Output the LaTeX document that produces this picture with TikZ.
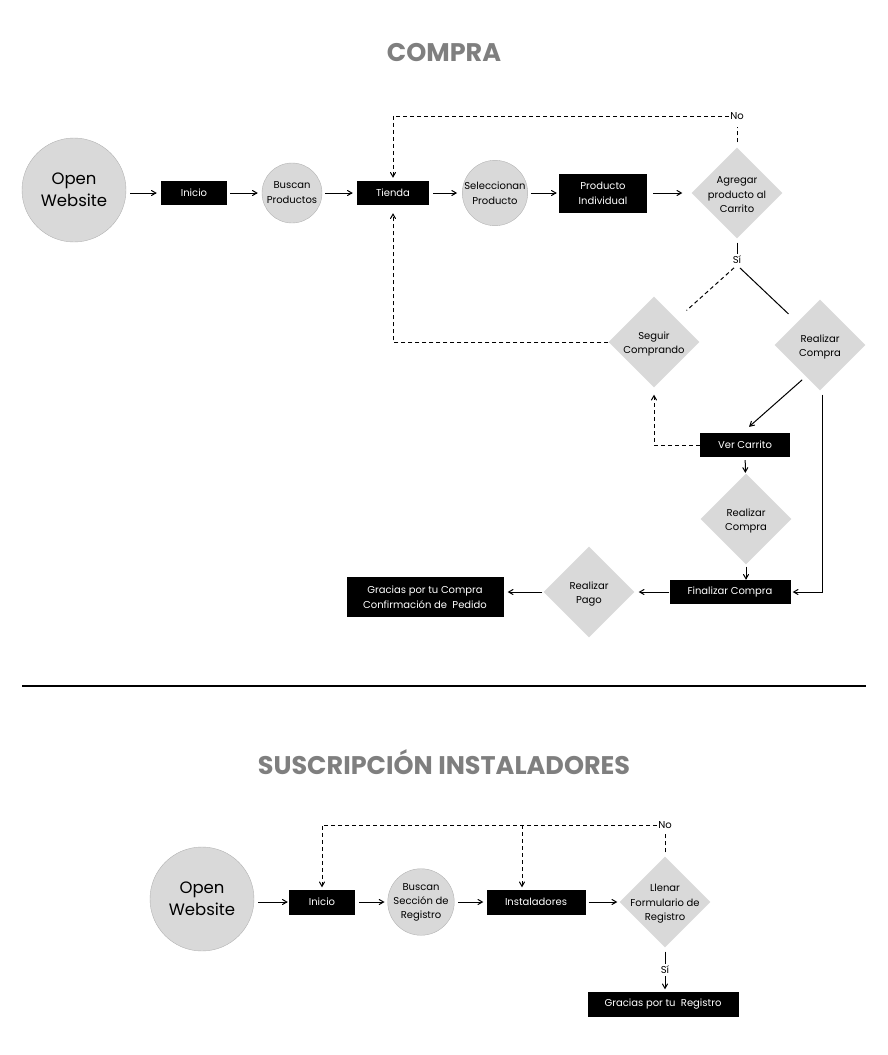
\documentclass[tikz,border=0pt]{standalone}
\usepackage{fontspec}
\setmainfont{Poppins}
\usepackage{tikz}
\usetikzlibrary{arrows,calc}
\usetikzlibrary{positioning,shapes}
\definecolor{gris}{HTML}{D9D9D9}
\definecolor{borde}{HTML}{B3B3B3}
\definecolor{grisTitulo}{HTML}{7F7F7F}
\tikzstyle{flecha}=[->, line width=1pt, shorten >=4pt, shorten <=4pt]
\tikzstyle{linea}=[-, line width=1pt]
\tikzstyle{punteado}=[line width=1pt, dash pattern=on 4pt off 3pt]
\tikzstyle{caja}=[rectangle, fill=black, text=white, inner sep=0pt,
  align=center, font=\fontsize{10}{15}\selectfont]
\tikzstyle{bola}=[circle, fill=gris, draw=borde, inner sep=0pt,
  minimum size=60pt, align=center, font=\fontsize{10}{15}\selectfont]
\tikzstyle{web}=[circle, fill=gris, draw=borde, inner sep=0pt,
  minimum size=104pt, align=center, font=\fontsize{16.5}{22}\selectfont]
\tikzstyle{rombo}=[diamond, fill=gris, inner sep=0pt, minimum width=91pt,
  minimum height=91pt]
\tikzstyle{texto}=[align=center, inner sep=1pt, font=\fontsize{10}{14.5}\selectfont]
\tikzstyle{etiq}=[texto, yshift=-2pt]
\tikzstyle{titulo}=[font=\fontsize{25.5}{30}\selectfont\bfseries, text=grisTitulo]

\begin{document}
\begin{tikzpicture}[x=1pt,y=-1pt,>=angle 60]
  \useasboundingbox (0,0) rectangle (888,1055);

  % compra
  \node[titulo] (tcompra) at (444,53) {COMPRA};

  \coordinate (web) at (74,190);
  \coordinate (ini) at (194,193);
  \coordinate (bus) at (292,193);
  \coordinate (tie) at (393,193);
  \coordinate (sel) at (495,193);
  \coordinate (pro) at (603,193);
  \coordinate (agr) at (737,193);
  \coordinate (seg) at (654,342);
  \coordinate (rea) at (820,345);
  \coordinate (ver) at (745,445);
  \coordinate (rea2) at (746,519);
  \coordinate (fin) at (730,592);
  \coordinate (pag) at (589,592);
  \coordinate (gra) at (425,597);

  \node[web] (nweb) at (web) {Open\\Website};
  \node[caja,minimum width=66pt,minimum height=24pt] (ninicio) at (ini) {Inicio};
  \node[bola] (nbuscan) at (bus) {Buscan\\Productos};
  \node[caja,minimum width=72pt,minimum height=24pt] (ntienda) at (tie) {Tienda};
  \node[bola] (nselec) at (sel) {Seleccionan\\Producto};
  \node[caja,minimum width=88pt,minimum height=39pt] (nprod) at (pro)
  {Producto\\Individual};
  \node[rombo,label={[etiq]center:Agregar\\producto al\\Carrito}] (nagregar)
  at (agr) {};
  \node[texto] (nno) at (737,116) {No};
  \node[texto] (nsi) at (737,260) {Sí};
  \node[rombo,label={[etiq]center:Seguir\\Comprando}] (nseguir) at (seg) {};
  \node[rombo,label={[etiq]center:Realizar\\Compra}] (nrealizar) at (rea) {};
  \node[caja,minimum width=90pt,minimum height=24pt] (nver) at (ver) {Ver Carrito};
  \node[rombo,label={[etiq]center:Realizar\\Compra}] (nrealizar2) at (rea2) {};
  \node[caja,minimum width=121pt,minimum height=24pt] (nfin) at (fin)
  {Finalizar Compra};
  \node[rombo,label={[etiq]center:Realizar\\Pago}] (npago) at (pag) {};
  \node[caja,minimum width=157pt,minimum height=40pt] (ngracias) at (gra)
  {Gracias por tu Compra\\Confirmación de\ \ Pedido};

  \draw[flecha] (nweb.east |- ninicio.west) -- (ninicio);
  \draw[flecha,shorten <=3pt] (ninicio) -- (nbuscan);
  \draw[flecha,shorten <=3pt] (nbuscan) -- (ntienda);
  \draw[flecha,shorten >=5pt] (ntienda) -- (nselec);
  \draw[flecha,shorten <=3pt,shorten >=2pt] (nselec) -- (nprod);
  \draw[flecha,shorten <=6pt,shorten >=9pt] (nprod) -- (nagregar);
  % no
  \draw[punteado,shorten <=5pt,shorten >=6pt] (nagregar.north) -- (nno.south);
  \draw[punteado,->,shorten >=3pt] (nno.west) -| (ntienda.north);
  % si
  \draw[linea,shorten <=4pt,shorten >=1pt] (nagregar.south) -- (nsi.north);
  \draw[linea,shorten <=4pt,shorten >=12pt] (nsi.south) -- (nrealizar.north west);
  \draw[punteado,shorten <=4pt,shorten >=13pt] (nsi.south) -- (nseguir.north east);
  \draw[punteado,->,shorten >=8pt] (nseguir.west) -| (ntienda.south);
  % carrito
  \draw[flecha,shorten <=0pt,shorten >=0pt] ($(nrealizar.south west)+(5,12)$) --
  ($(nver.north)+(4,-6)$);
  \draw[punteado,->,shorten >=7pt] (nver.west) -| (nseguir.south);
  \draw[flecha,shorten <=3pt,shorten >=1pt] (nver) -- (nrealizar2);
  \draw[flecha,shorten <=2pt,shorten >=0pt] (nrealizar2.south) --
  (nrealizar2.south |- nfin.north);
  \draw[flecha,shorten <=0pt,shorten >=2pt] ($(nrealizar.south)+(2,4)$) |-
  (nfin.east);
  \draw[flecha,shorten <=0pt,shorten >=4pt] (nfin) -- (npago);
  \draw[flecha,shorten <=1pt,shorten >=4pt] (npago.west) -- (npago.west -| ngracias.east);

  \draw[line width=2.2pt] (22,686) -- (866,686);

  % suscripcion
  \node[titulo] (tsus) at (444,762) {SUSCRIPCIÓN INSTALADORES};

  \coordinate (web2) at (202,899);
  \coordinate (ini2) at (322,902);
  \coordinate (bus2) at (421,902);
  \coordinate (ins) at (536,902);
  \coordinate (lle) at (665,902);
  \coordinate (reg) at (663,1004);
  \coordinate (ret) at (522,825);

  \node[web] (nweb2) at (web2) {Open\\Website};
  \node[caja,minimum width=66pt,minimum height=25pt] (ninicio2) at (ini2) {Inicio};
  \node[bola,font=\fontsize{10}{14}\selectfont] (nbuscan2) at (bus2)
  {Buscan\\Sección de\\Registro};
  \node[caja,minimum width=99pt,minimum height=25pt] (ninst) at (ins) {Instaladores};
  \node[rombo,label={[etiq]center:Llenar\\Formulario de\\Registro}] (nllenar)
  at (lle) {};
  \node[texto] (nno2) at (665,825) {No};
  \node[texto] (nsi2) at (665,970) {Sí};
  \node[caja,minimum width=151pt,minimum height=25pt] (nregistro) at (reg)
  {Gracias por tu\ \ Registro};

  \draw[flecha,shorten >=1pt] (nweb2.east |- ninicio2.west) -- (ninicio2);
  \draw[flecha,shorten >=3pt] (ninicio2) -- (nbuscan2);
  \draw[flecha,shorten >=3pt] (nbuscan2) -- (ninst);
  \draw[flecha,shorten <=3pt,shorten >=2pt] (ninst) -- (nllenar);
  % no
  \draw[punteado,shorten <=4pt,shorten >=4pt] (nllenar.north) -- (nno2.south);
  \draw[punteado,->,shorten >=2pt] (nno2.west) -| (ninicio2.north);
  \draw[punteado,->,shorten >=2pt] (ret) -- (ret |- ninst.north);
  % si
  \draw[linea,shorten <=4pt,shorten >=1pt] (nllenar.south) -- (nsi2.north);
  \draw[flecha,shorten <=1pt,shorten >=2pt] (nsi2.south) --
  (nsi2.south |- nregistro.north);
\end{tikzpicture}
\end{document}
